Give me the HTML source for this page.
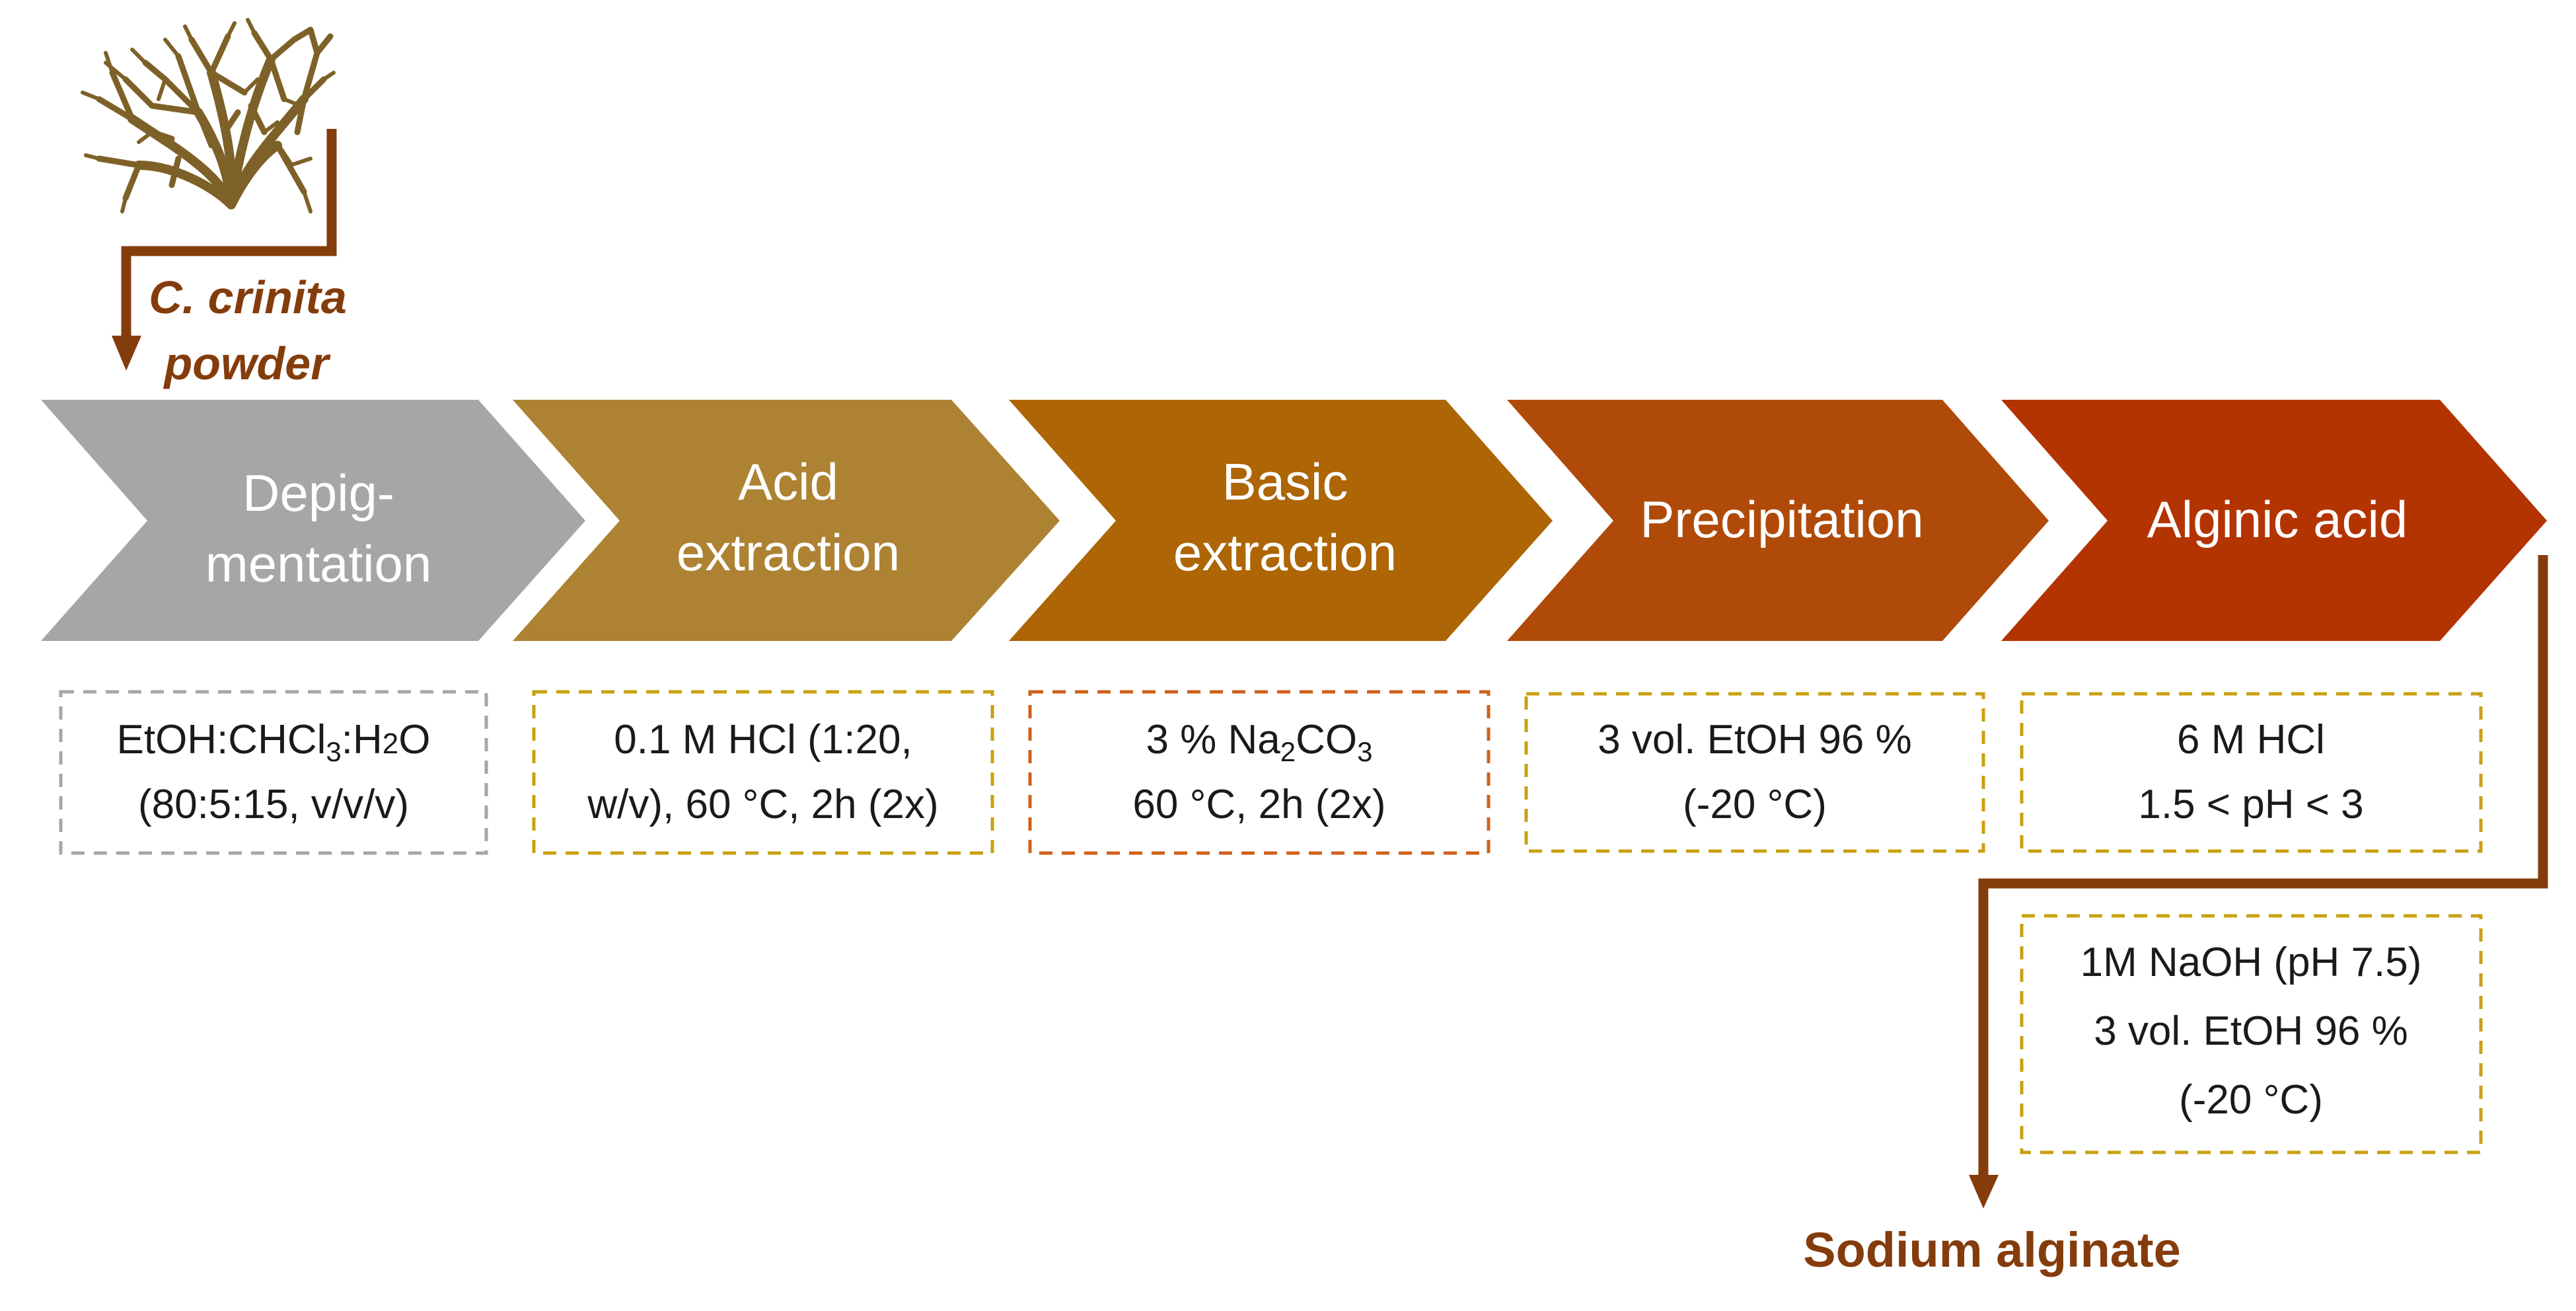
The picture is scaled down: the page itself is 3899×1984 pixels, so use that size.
<!DOCTYPE html>
<html><head><meta charset="utf-8"><style>
html,body{margin:0;padding:0;background:#fff;}
svg{display:block;}
text{font-family:"Liberation Sans",sans-serif;}
</style></head><body>
<svg width="3899" height="1984" viewBox="0 0 3899 1984" xmlns="http://www.w3.org/2000/svg">
<!-- seaweed -->
<g stroke="#7d6128" stroke-linecap="round" fill="none">
  <path d="M350 310 C345 260 330 220 300 170 M350 310 C355 250 340 180 320 110 M350 310 C360 240 380 160 410 90 M350 310 C370 250 420 200 460 150 M350 310 C330 260 260 220 200 180 M350 310 C320 280 260 250 210 250 M350 310 C365 280 390 240 420 220" stroke-width="14"/>
  <path d="M300 170 L250 120 M300 170 L270 85 M320 110 L290 60 M320 110 L345 55 M410 90 L385 50 M410 90 L445 60 M460 150 L480 80 M460 150 L490 120 M200 180 L150 150 M200 180 L170 110 M210 250 L150 240 M210 250 L190 300 M300 170 L230 160 M410 90 L430 150 M460 150 L450 200 M420 220 L440 250 M420 220 L460 290 M230 160 L190 120 M250 120 L220 95 M445 60 L470 45 M480 80 L500 55 M480 80 L470 45 M320 110 L370 140 M380 160 L400 200 M260 210 L230 200 M270 240 L260 280 M300 170 L320 220 M340 200 L360 170" stroke-width="9"/>
  <path d="M150 150 L125 140 M170 110 L160 80 M290 60 L280 40 M345 55 L355 35 M385 50 L375 30 M150 240 L130 235 M190 300 L185 320 M440 250 L470 240 M460 290 L470 320 M220 95 L200 75 M190 120 L160 95 M270 85 L250 60 M430 150 L455 160 M490 120 L505 110 M370 140 L390 120 M230 200 L210 215 M400 200 L420 185 M250 120 L240 150" stroke-width="6"/>
</g>
<!-- top connector -->
<polyline points="502,195 502,380 191,380 191,510" fill="none" stroke="#843c0c" stroke-width="15"/>
<polygon points="169,508 214,508 191,561" fill="#843c0c"/>
<text x="375" y="474" font-size="70" font-weight="bold" font-style="italic" fill="#843c0c" text-anchor="middle">C. crinita</text>
<text x="373" y="574" font-size="70" font-weight="bold" font-style="italic" fill="#843c0c" text-anchor="middle">powder</text>
<!-- chevrons -->
<polygon points="62,605 724,605 886,788 724,970 62,970 223,788" fill="#a6a6a6"/>
<polygon points="776,605 1440,605 1604,788 1440,970 776,970 938,788" fill="#ae8233"/>
<polygon points="1527,605 2188,605 2350,788 2188,970 1527,970 1689,788" fill="#ad6505"/>
<polygon points="2281,605 2940,605 3101,788 2940,970 2281,970 2442,788" fill="#b04a09"/>
<polygon points="3029,605 3693,605 3855,788 3693,970 3029,970 3190,788" fill="#b33400"/>
<g fill="#fff" font-size="78" text-anchor="middle">
<text x="482" y="773">Depig-</text>
<text x="482" y="880">mentation</text>
<text x="1193" y="756">Acid</text>
<text x="1193" y="863">extraction</text>
<text x="1945" y="756">Basic</text>
<text x="1945" y="863">extraction</text>
<text x="2697" y="813">Precipitation</text>
<text x="3447" y="813">Alginic acid</text>
</g>
<!-- bottom connector -->
<polyline points="3849,840 3849,1337 3002,1337 3002,1780" fill="none" stroke="#843c0c" stroke-width="15"/>
<polygon points="2980,1778 3025,1778 3002,1829" fill="#843c0c"/>
<text x="3015" y="1917" font-size="74" font-weight="bold" fill="#843c0c" text-anchor="middle">Sodium alginate</text>
<!-- boxes -->
<g fill="none" stroke-width="5" stroke-dasharray="20,14">
<rect x="92" y="1047" width="644" height="244" stroke="#a6a6a6"/>
<rect x="808" y="1047" width="694" height="244" stroke="#c9a010"/>
<rect x="1559" y="1047" width="694" height="244" stroke="#d0601a"/>
<rect x="2310" y="1050" width="692" height="238" stroke="#c9a010"/>
<rect x="3060" y="1050" width="695" height="238" stroke="#c9a010"/>
<rect x="3060" y="1386" width="695" height="358" stroke="#c9a010"/>
</g>
<g fill="#1a1a1a" font-size="62" text-anchor="middle">
<text x="414" y="1140">EtOH:CHCl<tspan font-size="42" dy="12">3</tspan><tspan dy="-12">:H</tspan><tspan font-size="44">2</tspan>O</text>
<text x="414" y="1238">(80:5:15, v/v/v)</text>
<text x="1155" y="1140">0.1 M HCl (1:20,</text>
<text x="1155" y="1238">w/v), 60 °C, 2h (2x)</text>
<text x="1906" y="1140">3 % Na<tspan font-size="42" dy="12">2</tspan><tspan dy="-12">CO</tspan><tspan font-size="42" dy="12">3</tspan></text>
<text x="1906" y="1238">60 °C, 2h (2x)</text>
<text x="2656" y="1140">3 vol. EtOH 96 %</text>
<text x="2656" y="1238">(-20 °C)</text>
<text x="3407" y="1140">6 M HCl</text>
<text x="3407" y="1238">1.5 &lt; pH &lt; 3</text>
<text x="3407" y="1477">1M NaOH (pH 7.5)</text>
<text x="3407" y="1581">3 vol. EtOH 96 %</text>
<text x="3407" y="1685">(-20 °C)</text>
</g>
</svg>
</body></html>
